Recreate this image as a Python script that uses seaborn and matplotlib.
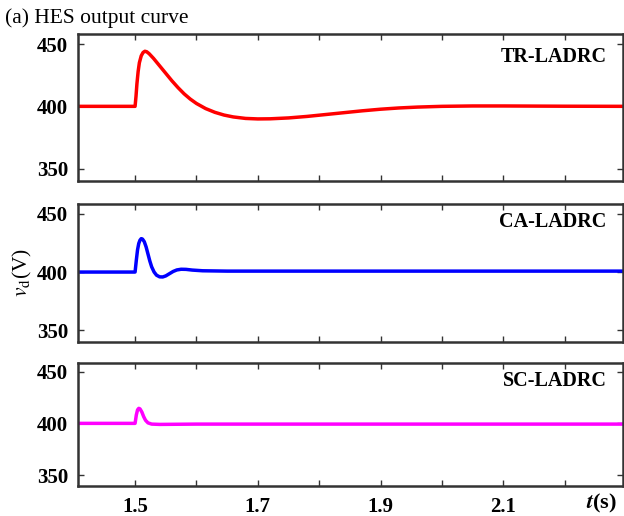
import matplotlib
matplotlib.use('Agg')
import matplotlib.pyplot as plt
import seaborn as sns

# curve samples (time in s, voltage in V)
tr_t = [1.40, 1.50, 1.5015, 1.503, 1.505, 1.507, 1.510, 1.513, 1.516, 1.519, 1.523,
        1.53, 1.54, 1.55, 1.56, 1.57, 1.58, 1.59, 1.60, 1.615, 1.63, 1.645, 1.66,
        1.68, 1.70, 1.72, 1.75, 1.78, 1.81, 1.84, 1.87, 1.90, 1.93, 1.96, 2.00,
        2.05, 2.10, 2.20, 2.30]
tr_v = [400, 400, 408, 418, 428, 435, 440.5, 443.2, 444.2, 443.8, 442.2,
        438.5, 432.5, 426.5, 420.5, 415, 410, 405.8, 402.3, 398.2, 395.2, 393.0, 391.5,
        390.3, 389.9, 390.0, 390.7, 391.9, 393.4, 394.9, 396.4, 397.7, 398.7, 399.4, 400.0,
        400.3, 400.3, 400.1, 400]

ca_t = [1.40, 1.50, 1.502, 1.504, 1.506, 1.508, 1.510, 1.512, 1.515, 1.518, 1.521,
        1.524, 1.527, 1.531, 1.535, 1.540, 1.545, 1.550, 1.556, 1.562, 1.568, 1.575,
        1.583, 1.593, 1.61, 1.65, 2.30]
ca_v = [400, 400, 410, 419, 424.5, 427.3, 428.6, 428.3, 426, 421.5, 415.5,
        409.5, 404.5, 400, 397.3, 395.9, 395.8, 396.7, 398.6, 400.5, 401.8, 402.4,
        402.3, 401.7, 401.1, 400.8, 400.8]

sc_t = [1.40, 1.50, 1.502, 1.504, 1.506, 1.508, 1.511, 1.514, 1.517, 1.521, 1.527,
        1.54, 1.60, 2.30]
sc_v = [400, 400, 408, 413, 414.5, 414, 411, 406.5, 403, 400.5, 399.3,
        399.0, 399.3, 399.3]

series = [
    ("TR-LADRC", tr_t, tr_v, "#ff0000"),
    ("CA-LADRC", ca_t, ca_v, "#0000ff"),
    ("SC-LADRC", sc_t, sc_v, "#ff00ff"),
]

x_ticks = [1.5, 1.6, 1.7, 1.8, 1.9, 2.0, 2.1, 2.2]
x_labels = ["1.5", "", "1.7", "", "1.9", "", "2.1", ""]
y_ticks = [350, 400, 450]

sns.set_style("ticks")
plt.rcParams['font.family'] = ['Liberation Serif', 'DejaVu Serif']
plt.rcParams['mathtext.fontset'] = 'stix'
plt.rcParams['text.color'] = 'black'
plt.rcParams['xtick.labelcolor'] = 'black'
plt.rcParams['ytick.labelcolor'] = 'black'

fig = plt.figure(figsize=(6.24, 5.16), dpi=100)

# panel rectangles (left, bottom, width, height) in figure fraction
rects = [
    (0.125, 0.649, 0.8734, 0.285),
    (0.125, 0.337, 0.8734, 0.267),
    (0.125, 0.059, 0.8734, 0.237),
]
label_y = [0.844, 0.873, 0.855]

for i, (name, t, v, col) in enumerate(series):
    ax = fig.add_axes(rects[i])
    sns.lineplot(x=t, y=v, ax=ax, color=col, linewidth=2.5)
    ax.set_xlim(1.407, 2.295)
    ax.set_ylim(340, 458)
    ax.set_yticks(y_ticks)
    ax.set_yticklabels([str(y) for y in y_ticks], fontsize=15, fontweight='bold')
    ax.set_xticks(x_ticks)
    if i == 2:
        ax.set_xticklabels(x_labels, fontsize=15, fontweight='bold')
    else:
        ax.set_xticklabels([])
    ax.tick_params(direction='in', top=True, right=True, length=4, width=1,
                   color='#333333')
    ax.tick_params(axis='y', pad=7)
    ax.tick_params(axis='x', pad=8)
    for s in ax.spines.values():
        s.set_linewidth(1.8)
        s.set_color('#333333')
        s.set_visible(True)
    ax.text(0.970, label_y[i], name, transform=ax.transAxes, ha='right', va='center',
            fontsize=14.5, fontweight='bold')
    ax.set_xlabel("")
    ax.set_ylabel("")

fig.text(0.008, 1 - 18 / 516, "(a) HES output curve", fontsize=15.5, ha='left', va='center')
fig.text(22 / 624, 1 - 272 / 516, r"$v_{\mathrm{d}}$(V)", rotation=90, fontsize=15.5,
         ha='center', va='center')
fig.text(602 / 624, 1 - 503 / 516, r"$\boldsymbol{t}$(s)", fontsize=16,
         fontweight='bold', ha='center', va='center')

fig.savefig("out.png", dpi=100)
